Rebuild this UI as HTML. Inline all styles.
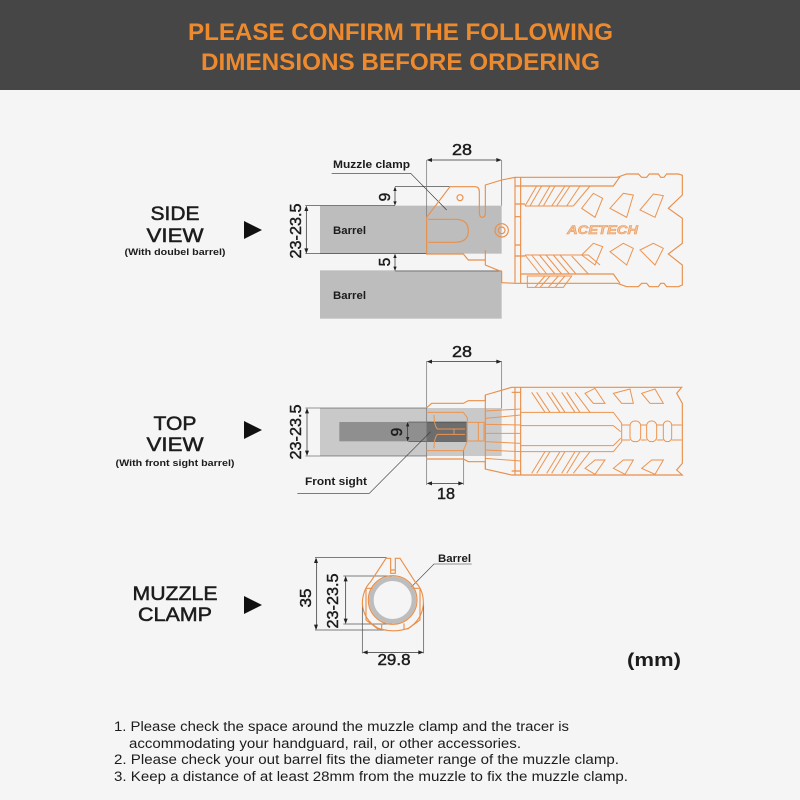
<!DOCTYPE html>
<html><head><meta charset="utf-8"><style>
html,body{margin:0;padding:0;background:#f5f5f5}
svg{display:block}
text{font-family:"Liberation Sans",sans-serif;fill:#1c1c1c}
.o{fill:none;stroke:#e98f4a;stroke-width:3.4}
.t{fill:none;stroke:#ec9450;stroke-width:3}
.k{fill:none;stroke:#333;stroke-width:1.8}
.a{fill:#222}
</style></head><body>
<svg width="800" height="800" viewBox="0 0 800 800" xmlns="http://www.w3.org/2000/svg">
<rect width="800" height="800" fill="#f5f5f5"/>
<rect width="800" height="90" fill="#464646"/>
<g font-weight="700" font-size="24" text-anchor="start">
<text x="188" y="40" textLength="425" lengthAdjust="spacingAndGlyphs" style="fill:#ee8a2e">PLEASE CONFIRM THE FOLLOWING</text>
<text x="201" y="70" textLength="399" lengthAdjust="spacingAndGlyphs" style="fill:#ee8a2e">DIMENSIONS BEFORE ORDERING</text>
</g>

<!-- left labels -->
<g font-size="19" text-anchor="middle" font-weight="400" stroke="#1c1c1c" stroke-width=".5">
<text x="175" y="220" textLength="49" lengthAdjust="spacingAndGlyphs">SIDE</text>
<text x="175" y="242" textLength="57" lengthAdjust="spacingAndGlyphs">VIEW</text>
<text x="175" y="430" textLength="43" lengthAdjust="spacingAndGlyphs">TOP</text>
<text x="175" y="451" textLength="57" lengthAdjust="spacingAndGlyphs">VIEW</text>
<text x="175" y="600" textLength="85" lengthAdjust="spacingAndGlyphs">MUZZLE</text>
<text x="175" y="621" textLength="74" lengthAdjust="spacingAndGlyphs">CLAMP</text>
</g>
<g font-size="9.5" font-weight="700" text-anchor="middle">
<text x="175" y="255" textLength="101" lengthAdjust="spacingAndGlyphs">(With doubel barrel)</text>
<text x="175" y="466" textLength="119" lengthAdjust="spacingAndGlyphs">(With front sight barrel)</text>
</g>
<path d="M244 221 L262 230 L244 239Z M244 421 L262 430 L244 439Z M244 596 L262 605 L244 614Z" fill="#111"/>

<!-- SIDE VIEW -->
<g transform="translate(280 130) scale(.33333)">
<rect x="120" y="227" width="545" height="144" fill="#bdbdbd"/>
<rect x="120" y="421" width="545" height="145" fill="#bdbdbd"/>
<path class="k" d="M76 227H120 M76 371H440 M345 170H510 M345 227H120 M345 423H665"/>
<path class="k" style="stroke:#777;stroke-width:2.2" d="M440 90V262 M665 90V227"/>
<path class="k" style="stroke-width:2.2" d="M445 90H660 M79 232V366 M345 175V222 M345 375V418"/>
<path class="a" d="M440 90l16-6v12z M665 90l-16-6v12z M79 227l-6 16h12z M79 371l-6-16h12z M345 170l-5 13h10z M345 227l-5-13h10z M345 371l-5 13h10z M345 423l-5-13h10z"/>
<path class="k" d="M155 130H392 L500 240"/>
<g class="o">
<path d="M440 262 L510 170 H585 Q598 170 598 185 V245 Q598 262 606 262 Q616 262 616 250 V165 L665 150 L705 142 H1012 L1040 132 H1075 L1085 142 H1100 L1108 132 H1135 L1142 142 H1152 L1160 132 H1195 L1207 136 V195 L1165 235 L1207 265 V340 L1165 372 L1207 405 V465 L1195 470 H1160 L1152 460 H1142 L1135 470 H1108 L1100 460 H1085 L1075 470 H1040 L1012 460 H705 L665 458 V425 L616 405 V360"/>
<path d="M440 262V372 H550 L565 390 H616"/>
<path d="M445 268H525 Q565 268 565 302 Q565 337 525 337H445"/>
<circle cx="540" cy="203" r="9"/>
<circle cx="665" cy="301" r="20"/><circle cx="665" cy="301" r="10"/>
<path d="M705 142V458 M722 142V460 M705 260H722V345H705 M705 168H1000L1020 140 M705 222H735 M705 378H735 M722 432H1000L1020 460"/>
</g>
<g class="t">
<path d="M735 228 L770 168 M750 228 L785 168 M775 228 L810 168 M790 228 L825 168 M815 228 L855 168 M830 228 L870 168 M860 228 L900 168 M880 228 L930 168 M735 228H880"/>
<path d="M735 375 L780 432 M755 375 L800 432 M778 375 L825 432 M798 375 L845 432 M820 375 L868 432 M840 375 L888 432 M875 378 L925 432 M735 375H925 L960 405"/>
<path d="M742 438H875 L850 472 H742Z M765 472 L795 438 M780 472 L810 438 M805 472 L835 438 M825 472 L855 438"/>
<path d="M905 235 L940 190 L968 205 L945 262 Z M990 235 L1030 190 L1060 195 L1040 262 Z M1080 240 L1120 192 L1150 197 L1125 262 Z"/>
<path d="M905 375 L940 340 L968 350 L945 405 Z M990 365 L1030 340 L1060 355 L1040 405 Z M1080 360 L1120 340 L1150 355 L1125 405 Z"/>
</g>
</g>
<text x="567" y="234" font-size="11.500" font-weight="700" font-style="italic" textLength="71" lengthAdjust="spacingAndGlyphs" style="fill:#f5c49c;stroke:#ec9450;stroke-width:.5">ACETECH</text>

<!-- TOP VIEW -->
<g transform="translate(280 335) scale(.33333)">
<rect x="120" y="219" width="545" height="144" fill="#c9c9c9"/>
<rect x="178" y="261" width="382" height="58" fill="#8f8f8f"/>
<rect x="440" y="261" width="120" height="58" fill="#6d6d6d"/>
<path class="k" d="M76 219H440 M76 363H440 M385 261H560 M385 319H560"/>
<path class="k" style="stroke-width:2.2;stroke:#777" d="M440 78V450 M665 78V220 M551 345V450"/>
<path class="k" style="stroke-width:2.2" d="M445 80H660 M445 445H546 M81 224V358 M383 266V314"/>
<path class="a" d="M440 80l16-6v12z M665 80l-16-6v12z M440 445l16-6v12z M551 445l-16-6v12z M81 219l-6 16h12z M81 363l-6-16h12z M383 261l-5 13h10z M383 319l-5-13h10z"/>
<path class="k" d="M52 475H268 L452 290"/>
<g class="o">
<path d="M440 218L455 205 H550 L565 197 H616 V180 L695 157 H1205 L1190 175 L1207 205 V385 L1190 405 L1207 420 H695 L616 402 V380 H565 L550 372 H440"/>
<path d="M616 180V402 M705 157V420 M722 157V420 M695 172H722 M695 408H722"/>
</g>
<g class="t">
<path d="M440 232H550 L562 248 V318 L550 347 H470 L440 347 M462 240 Q462 270 472 282 H555 M472 298H555 M462 340 Q462 310 472 298 M522 282V298 M562 262H612V318H562 M595 262V318"/>
<path d="M616 228L722 222 M616 250L722 240 M616 268L722 270 M616 295H722 M616 320L722 325 M616 345L722 350 M616 370L722 378"/>
<path d="M722 232H1000 L1025 265 V320 L1000 350 H722 M722 272H1000 L1022 290 M722 332H1000 L1022 310"/>
<path d="M1025 270H1050 M1025 315H1050 M1082 270H1100 M1082 315H1100 M1130 270H1150 M1130 315H1150 M1175 270H1205 M1175 315H1205"/>
<rect x="1050" y="258" width="32" height="62" rx="14"/><rect x="1100" y="258" width="30" height="62" rx="14"/><rect x="1150" y="258" width="25" height="62" rx="12"/>
<path d="M755 172L795 232 M770 172L810 232 M800 172L840 232 M815 172L855 232 M845 172L885 232 M860 172L900 232 M885 172L930 232 M755 415L795 350 M770 415L810 350 M800 415L840 350 M815 415L855 350 M845 415L885 350 M860 415L900 350 M880 415L930 350"/>
<path d="M915 175L945 160 L975 205 H940 Z M1000 175L1050 162 L1060 205 H1025 Z M1085 175L1125 162 L1150 205 H1110 Z"/>
<path d="M915 400L945 375 H975 L945 418 Z M1000 400L1030 375 H1060 L1035 418 Z M1085 400L1115 375 H1150 L1125 418 Z"/>
</g>
</g>

<!-- MUZZLE CLAMP -->
<g transform="translate(280 540) scale(.33333)">
<circle cx="338" cy="180" r="64" fill="none" stroke="#bdbdbd" stroke-width="14"/>
<path class="k" style="stroke-width:2.2;stroke:#555" d="M105 53H320 M105 270H320 M190 108H335 M190 252H335 M247 190V340 M431 190V340"/>
<path class="k" style="stroke-width:2.2" d="M110 58V265 M197 113V247 M252 337H426"/>
<path class="a" d="M108 53l-6 16h12z M108 270l-6-16h12z M197 108l-6 16h12z M197 252l-6-16h12z M247 337l16-6v12z M431 337l-16-6v12z"/>
<path class="k" d="M395 140L462 72H575"/>
<g class="o">
<path d="M332 100 V55 H318 L272 125 Q248 150 247 190 Q250 240 295 265 Q340 280 385 265 Q425 240 430 195 Q432 150 405 125 L360 55 H346 V100 Z"/>
<circle cx="338" cy="180" r="73"/>
<path d="M258 145H278 M258 145V240L295 268 M418 145H398 M420 145V240L382 268 M305 250V268 M372 250V268 M332 90H346"/>
</g>
</g>

<!-- labels drawn over all shapes -->
<g font-size="11" font-weight="700">
<text x="333" y="234" textLength="33" lengthAdjust="spacingAndGlyphs">Barrel</text>
<text x="333" y="299" textLength="33" lengthAdjust="spacingAndGlyphs">Barrel</text>
<text x="333" y="168" textLength="77" lengthAdjust="spacingAndGlyphs">Muzzle clamp</text>
<text x="305" y="485" textLength="62" lengthAdjust="spacingAndGlyphs">Front sight</text>
<text x="438" y="562" textLength="33" lengthAdjust="spacingAndGlyphs">Barrel</text>
</g>
<g font-size="15.500" font-weight="400" stroke="#1c1c1c" stroke-width=".45" text-anchor="middle">
<text x="462" y="155" textLength="20" lengthAdjust="spacingAndGlyphs">28</text>
<text x="462" y="357" textLength="20" lengthAdjust="spacingAndGlyphs">28</text>
<text x="446" y="499" textLength="18" lengthAdjust="spacingAndGlyphs">18</text>
<text x="394" y="665" textLength="33" lengthAdjust="spacingAndGlyphs">29.8</text>
<text transform="translate(301 231) rotate(-90)" textLength="55" lengthAdjust="spacingAndGlyphs">23-23.5</text>
<text transform="translate(301 432) rotate(-90)" textLength="55" lengthAdjust="spacingAndGlyphs">23-23.5</text>
<text transform="translate(338 601) rotate(-90)" textLength="55" lengthAdjust="spacingAndGlyphs">23-23.5</text>
<text transform="translate(311 598) rotate(-90)" textLength="19" lengthAdjust="spacingAndGlyphs">35</text>
<text transform="translate(390 197) rotate(-90)">9</text>
<text transform="translate(390 262) rotate(-90)">5</text>
<text transform="translate(402 432) rotate(-90)">9</text>
</g>

<!-- notes -->
<g font-size="13.500" font-weight="400">
<text x="114" y="731" textLength="455" lengthAdjust="spacingAndGlyphs">1. Please check the space around the muzzle clamp and the tracer is</text>
<text x="129" y="748" textLength="392" lengthAdjust="spacingAndGlyphs">accommodating your handguard, rail, or other accessories.</text>
<text x="114" y="764" textLength="505" lengthAdjust="spacingAndGlyphs">2. Please check your out barrel fits the diameter range of the muzzle clamp.</text>
<text x="114" y="781" textLength="514" lengthAdjust="spacingAndGlyphs">3. Keep a distance of at least 28mm from the muzzle to fix the muzzle clamp.</text>
</g>
<text x="627" y="666" font-size="18" font-weight="700" textLength="54" lengthAdjust="spacingAndGlyphs">(mm)</text>
</svg>
</body></html>
